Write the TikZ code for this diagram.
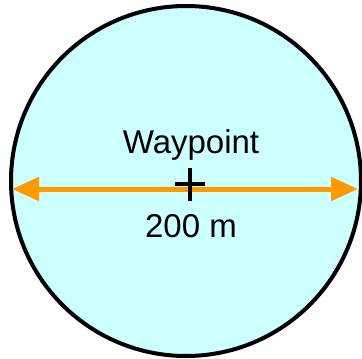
\documentclass[tikz,border=0pt]{standalone}
\usepackage{fontspec}
\setmainfont{Liberation Sans}
\usetikzlibrary{arrows.meta}

\definecolor{zonefill}{HTML}{CCFFFF}
\definecolor{rangeorange}{HTML}{FF9900}

\tikzset{
    label text/.style={font=\fontsize{33}{39}\selectfont, inner sep=0pt, anchor=base},
    range arrow/.style={rangeorange, line width=5pt,
        {Triangle[length=27pt,width=23pt]}-{Triangle[length=27pt,width=23pt]}}
}

\begin{document}
\begin{tikzpicture}[x=1pt, y=-1pt]

    % Page size
    \useasboundingbox (0,0) rectangle (362,359);

    % ==========================================
    % Waypoint zone
    % ==========================================
    \draw[line width=4pt, fill=zonefill] (186,181) circle (175);

    % Diameter (200 m)
    \coordinate (west) at (12,189);
    \coordinate (east) at (358,189);
    \draw[range arrow] (west) -- (east);

    % Centre mark
    \coordinate (wp) at (190,184);
    \draw[line width=3.5pt] ([xshift=-15pt]wp) -- ([xshift=15pt]wp);
    \draw[line width=3.5pt] ([yshift=-17pt]wp) -- ([yshift=16pt]wp);

    % Labels
    \node[label text] (name) at (191,153) {Waypoint};
    \node[label text] (dist) at (191,237) {200 m};

\end{tikzpicture}
\end{document}
